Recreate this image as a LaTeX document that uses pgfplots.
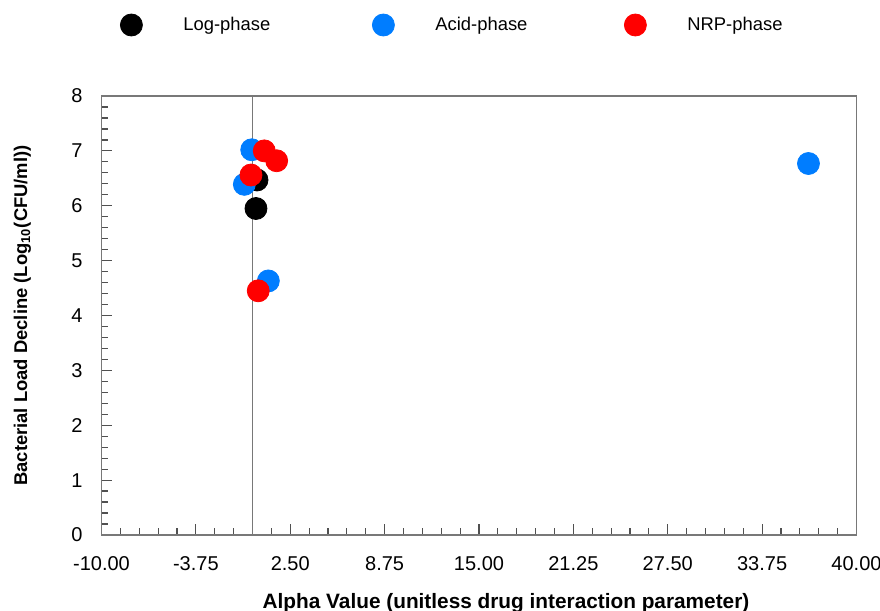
\documentclass[border=0pt]{standalone}
\usepackage{fontspec}
\setmainfont{Liberation Sans}
\usepackage{pgfplots}
\pgfplotsset{compat=1.18}
\definecolor{myblue}{RGB}{0,125,255}
\definecolor{myred}{RGB}{255,0,0}
\definecolor{axgray}{RGB}{120,120,120}
\definecolor{tickgray}{RGB}{80,80,80}
\begin{document}
\begin{tikzpicture}
\useasboundingbox (-50.75pt,-38pt) rectangle (389.25pt,267.5pt);
\begin{axis}[
  scale only axis,
  width=377.5pt, height=219.5pt,
  xmin=-10, xmax=40, ymin=0, ymax=8,
  xtick={-10,-3.75,2.5,8.75,15,21.25,27.5,33.75,40},
  ytick={0,1,...,8},
  minor x tick num=4,
  minor y tick num=4,
  tick align=inside,
  xtick pos=bottom, ytick pos=left,
  major tick length=5.5pt, minor tick length=3.5pt,
  tick style={tickgray, line width=0.6pt},
  axis line style={axgray, line width=0.7pt},
  /pgf/number format/assume math mode=true,
  x tick label style={/pgf/number format/.cd, fixed, fixed zerofill, precision=2, /tikz/.cd, font=\fontsize{10}{12}\selectfont, yshift=-7pt},
  y tick label style={font=\fontsize{10}{12}\selectfont, xshift=-6pt},
  xlabel={Alpha Value (unitless drug interaction parameter)},
  ylabel={Bacterial Load Decline (Log\textsubscript{10}(CFU/ml))},
  every axis x label/.style={at={(rel axis cs:0.5,0)}, anchor=center, yshift=-34pt, xshift=13.5pt, font=\bfseries\fontsize{10.4}{12}\selectfont},
  every axis y label/.style={at={(rel axis cs:0,0.5)}, anchor=center, xshift=-39.5pt, rotate=90, font=\bfseries\fontsize{9.2}{11}\selectfont},
  legend columns=3,
  legend image code/.code={\draw[#1] plot coordinates {(0pt,0pt)};},
  legend style={draw=none, fill=none, at={(rel axis cs:0,1)}, anchor=west, xshift=6.25pt, yshift=35.5pt,
    font=\fontsize{9.2}{11}\selectfont,
    /tikz/every odd column/.append style={column sep=18.5pt},
    /tikz/every even column/.append style={column sep=7.5pt}},
  legend cell align=left,
]
\draw[axgray, line width=0.5pt] (axis cs:0,0) -- (axis cs:0,8);
\addplot[only marks, mark=*, mark size=5.5pt, color=black, mark options={draw=none, fill=black}]
  coordinates {(0.30,6.47) (0.23,5.95)};
\addlegendentry{\makebox[85pt][l]{Log-phase}}
\addplot[only marks, mark=*, mark size=5.5pt, color=myblue, mark options={draw=none, fill=myblue}]
  coordinates {(-0.05,7.02) (-0.54,6.39) (1.05,4.63) (36.82,6.77)};
\addlegendentry{\makebox[85pt][l]{Acid-phase}}
\addplot[only marks, mark=*, mark size=5.5pt, color=myred, mark options={draw=none, fill=myred}]
  coordinates {(0.78,7.00) (1.60,6.82) (-0.10,6.56) (0.38,4.45)};
\addlegendentry{\makebox[85pt][l]{NRP-phase}}
\end{axis}
\end{tikzpicture}
\end{document}
